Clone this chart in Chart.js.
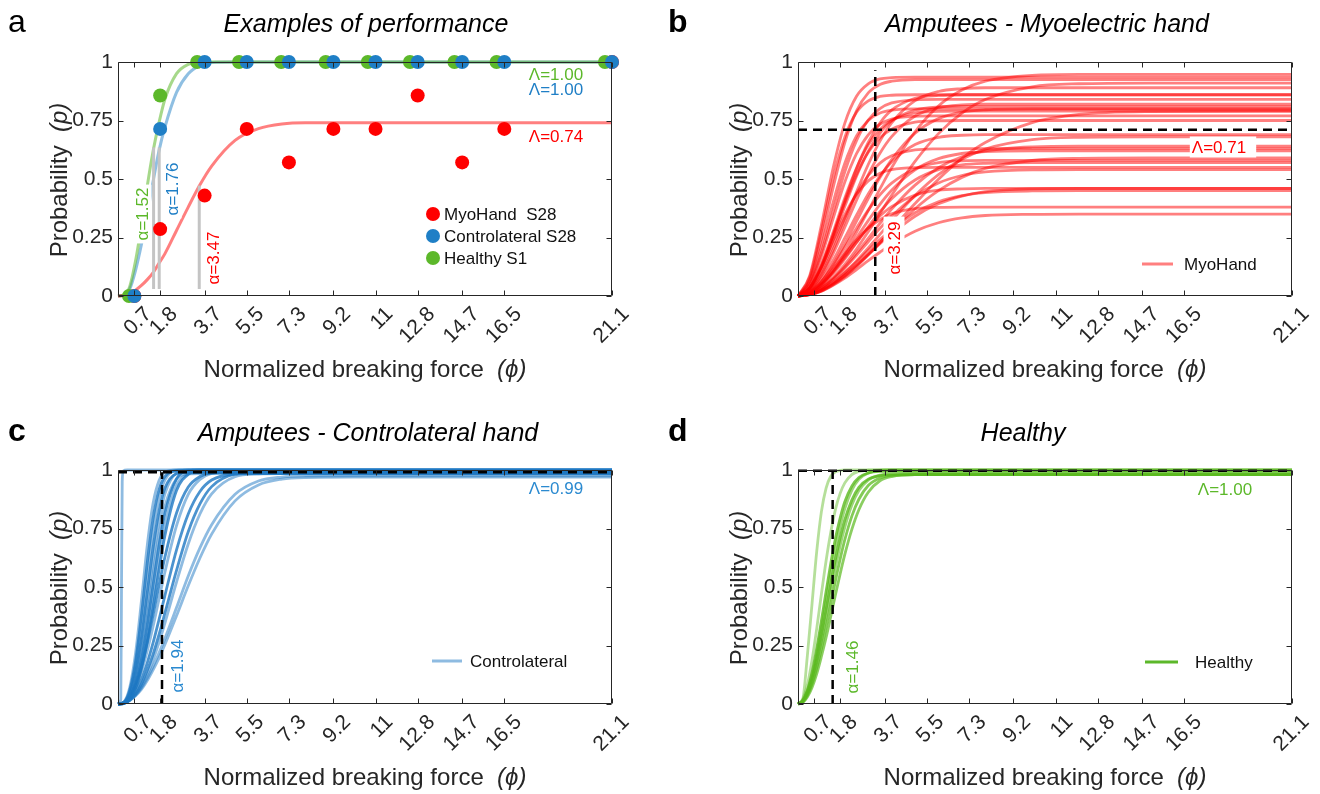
<!DOCTYPE html>
<html><head><meta charset="utf-8">
<script src="https://cdn.jsdelivr.net/npm/chart.js@4.4.1/dist/chart.umd.min.js"></script>
<style>
html,body{margin:0;padding:0;background:#fff;width:1320px;height:794px;overflow:hidden;}
canvas{position:absolute;}
</style></head><body>
<canvas id="pa" width="660" height="408" style="left:0;top:0"></canvas>
<canvas id="pb" width="660" height="408" style="left:660px;top:0"></canvas>
<canvas id="pc" width="660" height="386" style="left:0;top:408px"></canvas>
<canvas id="pd" width="660" height="386" style="left:660px;top:408px"></canvas>
<script>
// ---------- axis ticks ----------
const X_TICKS = [0.7, 1.8, 3.7, 5.5, 7.3, 9.2, 11, 12.8, 14.7, 16.5, 21.1];
const X_TICK_LABELS = ['0.7','1.8','3.7','5.5','7.3','9.2','11','12.8','14.7','16.5','21.1'];
const Y_TICKS = [0, 0.25, 0.5, 0.75, 1];
const Y_TICK_LABELS = ['0','0.25','0.5','0.75','1'];

// ---------- panel a : examples ----------
const A_FORCE = [0.7, 1.8, 3.7, 5.5, 7.3, 9.2, 11, 12.8, 14.7, 16.5, 21.1];
const A_FORCE_HEALTHY = [0.47, 1.8, 3.38, 5.17, 6.97, 8.87, 10.67, 12.47, 14.37, 16.17, 20.8];
const A_MYO_P = [0, 0.286, 0.429, 0.714, 0.571, 0.714, 0.714, 0.857, 0.571, 0.714, 1];
const A_CONTRA_P = [0, 0.714, 1, 1, 1, 1, 1, 1, 1, 1, 1];
const A_HEALTHY_P = [0, 0.857, 1, 1, 1, 1, 1, 1, 1, 1, 1];
const A_FIT_X = [0, 0.25, 0.5, 0.75, 1, 1.25, 1.5, 1.75, 2, 2.5, 3, 3.5, 4, 5, 6, 7, 8, 10, 14, 21.1];
const A_FIT_HEALTHY = [0, .005, .04, .15, .30, .47, .62, .74, .84, .95, .99, 1, 1, 1, 1, 1, 1, 1, 1, 1];
const A_FIT_CONTRA = [0, .004, .03, .11, .22, .35, .49, .62, .72, .87, .95, .985, .998, 1, 1, 1, 1, 1, 1, 1];
const A_FIT_MYO = [0, .002, .01, .025, .045, .07, .10, .14, .18, .28, .38, .475, .555, .665, .715, .735, .74, .74, .74, .74];
const A_ALPHA = [1.52, 1.76, 3.47];
const A_ALPHA_TOP = [0.635, 0.635, 0.472];
const A_ALPHA_BOTTOM = 0.03;

// ---------- panel b : myoelectric hand ----------
const B_X = [0, .5, 1, 1.5, 2, 2.5, 3, 3.5, 4, 5, 6, 7, 8, 10, 12, 15, 21.1];
const MYO_FITS = [
[0,.087,.303,.547,.739,.854,.907,.928,.933,.935,.935,.935,.935,.935,.935,.935,.935],
[0,.080,.279,.503,.679,.785,.834,.853,.858,.86,.86,.86,.86,.86,.86,.86,.86],
[0,.068,.246,.463,.656,.791,.868,.904,.918,.925,.925,.925,.925,.925,.925,.925,.925],
[0,.059,.213,.400,.567,.684,.750,.782,.794,.80,.80,.80,.80,.80,.80,.80,.80],
[0,.051,.186,.361,.531,.664,.752,.801,.825,.838,.84,.84,.84,.84,.84,.84,.84],
[0,.047,.170,.331,.487,.608,.689,.734,.756,.768,.77,.77,.77,.77,.77,.77,.77],
[0,.034,.122,.237,.348,.435,.492,.524,.540,.549,.55,.55,.55,.55,.55,.55,.55],
[0,.036,.136,.273,.419,.547,.646,.712,.751,.783,.789,.79,.79,.79,.79,.79,.79],
[0,.035,.129,.260,.398,.520,.614,.676,.713,.743,.749,.75,.75,.75,.75,.75,.75],
[0,.029,.108,.218,.334,.437,.515,.568,.599,.624,.629,.63,.63,.63,.63,.63,.63],
[0,.034,.127,.260,.407,.544,.656,.739,.794,.845,.857,.86,.86,.86,.86,.86,.86],
[0,.032,.120,.245,.383,.512,.618,.696,.748,.795,.808,.81,.81,.81,.81,.81,.81],
[0,.015,.056,.115,.180,.240,.290,.326,.351,.373,.379,.38,.38,.38,.38,.38,.38],
[0,.024,.093,.197,.320,.445,.562,.662,.740,.835,.874,.886,.89,.89,.89,.89,.89],
[0,.022,.086,.181,.294,.410,.518,.610,.681,.769,.805,.817,.82,.82,.82,.82,.82],
[0,.019,.072,.152,.248,.345,.436,.513,.573,.647,.678,.687,.69,.69,.69,.69,.69],
[0,.016,.061,.128,.208,.290,.367,.432,.482,.544,.570,.578,.58,.58,.58,.58,.58],
[0,.012,.048,.102,.165,.230,.291,.342,.382,.431,.452,.458,.46,.46,.46,.46,.46],
[0,.016,.062,.134,.223,.320,.416,.506,.583,.696,.758,.786,.796,.80,.80,.80,.80],
[0,.012,.048,.104,.173,.248,.322,.392,.452,.539,.587,.609,.617,.62,.62,.62,.62],
[0,.011,.044,.096,.159,.228,.296,.360,.416,.496,.540,.560,.567,.57,.57,.57,.57],
[0,.007,.027,.059,.099,.145,.194,.241,.284,.356,.403,.429,.442,.449,.45,.45,.45],
[0,.006,.021,.046,.077,.113,.151,.187,.221,.277,.313,.334,.344,.349,.35,.35,.35],
[0,.009,.033,.071,.119,.174,.232,.289,.341,.427,.483,.515,.530,.539,.54,.54,.54],
[0,.012,.050,.109,.185,.272,.365,.458,.548,.702,.812,.880,.918,.943,.947,.947,.947],
[0,.008,.034,.074,.125,.184,.246,.310,.371,.474,.548,.595,.620,.637,.64,.64,.64],
[0,.006,.024,.053,.090,.132,.177,.223,.266,.341,.394,.427,.446,.458,.46,.46,.46],
[0,.009,.035,.078,.135,.201,.275,.352,.430,.575,.694,.782,.840,.894,.907,.91,.91],
[0,.007,.027,.058,.101,.150,.205,.263,.322,.430,.519,.584,.628,.668,.678,.68,.68],
[0,.006,.023,.051,.087,.130,.178,.228,.279,.373,.450,.507,.545,.579,.588,.59,.59],
[0,.006,.021,.048,.083,.126,.175,.228,.284,.395,.499,.588,.656,.741,.776,.788,.79]
];
const B_ALPHA_X = 3.3, B_ALPHA_TOP = 0.965, B_LAMBDA = 0.71;

// ---------- panel c : controlateral hand ----------
const C_X = [0, .25, .5, .75, 1, 1.25, 1.5, 1.75, 2, 2.5, 3, 3.5, 4, 5, 6, 7, 8, 10, 21.1];
const CONTRA_FITS = [
[0,.009,.07,.217,.439,.678,.858,.954,.99,1,1,1,1,1,1,1,1,1,1],
[0,.007,.059,.182,.378,.603,.794,.915,.972,.995,.995,.995,.995,.995,.995,.995,.995,.995,.995],
[0,.006,.051,.157,.329,.54,.739,.88,.957,.998,1,1,1,1,1,1,1,1,1],
[0,.005,.043,.133,.281,.476,.669,.824,.922,.984,.99,.99,.99,.99,.99,.99,.99,.99,.99],
[0,.004,.037,.114,.25,.427,.617,.78,.897,.988,1,1,1,1,1,1,1,1,1],
[0,.004,.03,.097,.215,.374,.553,.72,.843,.962,.983,.985,.985,.985,.985,.985,.985,.985,.985],
[0,.003,.026,.088,.19,.339,.51,.676,.813,.962,.997,1,1,1,1,1,1,1,1],
[0,.003,.023,.076,.168,.298,.457,.619,.759,.933,.983,.99,.99,.99,.99,.99,.99,.99,.99],
[0,.002,.021,.066,.15,.269,.417,.573,.718,.912,.981,.994,.995,.995,.995,.995,.995,.995,.995],
[0,.007,.033,.083,.16,.263,.382,.506,.626,.816,.927,.972,.987,.99,.99,.99,.99,.99,.99],
[0,.006,.028,.072,.138,.227,.332,.448,.562,.762,.896,.96,.986,.995,.995,.995,.995,.995,.995],
[0,.003,.019,.053,.105,.176,.262,.36,.462,.659,.812,.908,.957,.983,.985,.985,.985,.985,.985],
[0,.003,.016,.043,.084,.143,.213,.296,.387,.571,.736,.855,.929,.982,.989,.99,.99,.99,.99],
[0,.003,.015,.037,.075,.124,.188,.262,.345,.521,.684,.812,.898,.971,.983,.985,.985,.985,.985],
[0,.004,.017,.039,.069,.111,.161,.218,.279,.412,.547,.667,.766,.896,.953,.970,.974,.975,.975],
[0,.003,.016,.035,.062,.1,.146,.196,.253,.377,.505,.624,.726,.868,.936,.961,.968,.97,.97]
];
const CONTRA_DARK = [false,true,false,true,false,false,true,false,true,true,false,true,true,false,false,false];
const CONTRA_STEP_X = [0, 0.12, 0.15, 0.18, 0.22, 0.4, 21.1];
const CONTRA_STEP_P = [0, 0.02, 0.5, 0.95, 0.995, 1, 1];
const C_ALPHA_X = 1.88, C_LAMBDA = 0.99;

// ---------- panel d : healthy ----------
const D_X = [0, .2, .4, .6, .8, 1, 1.2, 1.4, 1.6, 1.8, 2, 2.3, 2.6, 3, 3.5, 4, 5, 21.1];
const HEALTHY_FITS = [
[0,.019,.207,.429,.652,.822,.923,.973,.992,.998,1,1,1,1,1,1,1,1],
[0,.02,.082,.187,.322,.47,.612,.734,.832,.9,.945,.98,.994,.999,1,1,1,1],
[0,.015,.059,.134,.237,.355,.481,.6,.707,.794,.864,.931,.968,.987,.994,.995,.995,.995],
[0,.013,.053,.12,.215,.325,.443,.561,.667,.759,.835,.914,.96,.987,.998,1,1,1],
[0,.012,.048,.109,.192,.293,.404,.515,.619,.711,.788,.872,.926,.961,.976,.979,.98,.98],
[0,.01,.043,.099,.176,.269,.373,.481,.583,.677,.756,.85,.912,.957,.978,.984,.985,.985],
[0,.008,.037,.085,.153,.236,.33,.429,.527,.619,.702,.803,.875,.934,.966,.977,.98,.98],
[0,.006,.03,.071,.129,.203,.284,.375,.467,.556,.639,.746,.83,.905,.954,.972,.98,.98]
];
const HEALTHY_ALPHA_LINE = [0.45, 0.45, 0.8, 0.6, 0.8, 0.6, 0.75, 0.7];
const D_ALPHA_X = 1.48, D_LAMBDA = 0.997;

// ---------- helpers ----------
const FONT = '"Liberation Sans", Arial, Helvetica, sans-serif';
function font(size, italic, bold) { return (italic ? 'italic ' : '') + (bold ? 'bold ' : '') + size + 'px ' + FONT; }
function pts(xs, ys) { return ys.map((y, i) => ({ x: xs[i], y })); }
function curveDS(xs, ys, color, width, order) {
  return { data: pts(xs, ys), borderColor: color, borderWidth: width, pointRadius: 0, fill: false,
           cubicInterpolationMode: 'monotone', clip: false, order };
}
function segDS(x0, y0, x1, y1, color, width, dash, order) {
  return { data: [{ x: x0, y: y0 }, { x: x1, y: y1 }], borderColor: color, borderWidth: width,
           borderDash: dash || [], pointRadius: 0, fill: false, tension: 0, clip: false, order, borderCapStyle: 'butt' };
}
function dotsDS(xs, ys, color, order) {
  return { data: pts(xs, ys), showLine: false, pointRadius: 7, pointBackgroundColor: color,
           pointBorderWidth: 0, pointBorderColor: color, clip: false, order };
}

function drawLabel(ctx, l) {
  ctx.save();
  ctx.translate(l.x, l.y);
  if (l.rot) ctx.rotate(l.rot);
  ctx.font = font(l.size || 17);
  const w = ctx.measureText(l.text).width, h = (l.size || 17);
  if (l.bg) {
    const p = l.bg;
    ctx.fillStyle = '#fff';
    ctx.fillRect(-w / 2 - p[0], -h / 2 - p[1], w + p[0] + p[2], h + p[1] + p[3]);
  }
  ctx.fillStyle = l.color; ctx.textAlign = 'center'; ctx.textBaseline = 'middle';
  ctx.fillText(l.text, 0, 1);
  ctx.restore();
}
function drawMixed(ctx, parts, x, y, size, rot) {
  ctx.save();
  ctx.translate(x, y);
  if (rot) ctx.rotate(rot);
  let total = 0;
  parts.forEach(p => { ctx.font = font(size, p.i); p.w = ctx.measureText(p.t).width; total += p.w; });
  let cx = -total / 2;
  ctx.fillStyle = '#262626'; ctx.textAlign = 'left'; ctx.textBaseline = 'alphabetic';
  parts.forEach(p => { ctx.font = font(size, p.i); ctx.fillText(p.t, cx, 0); cx += p.w; });
  ctx.restore();
}

const panelPlugin = {
  id: 'panel',
  afterDraw(chart, args, o) {
    const ctx = chart.ctx, ca = chart.chartArea;
    const xs = chart.scales.x, ys = chart.scales.y;
    ctx.save();
    (o.labels || []).forEach(l => drawLabel(ctx, l));
    (o.legend || []).forEach(it => {
      if (it.dot) {
        ctx.beginPath(); ctx.fillStyle = it.color; ctx.arc(it.x, it.y, 7, 0, Math.PI * 2); ctx.fill();
      } else {
        ctx.beginPath(); ctx.strokeStyle = it.color; ctx.lineWidth = 3;
        ctx.moveTo(it.x0, it.y); ctx.lineTo(it.x1, it.y); ctx.stroke();
      }
      ctx.font = font(17); ctx.fillStyle = '#111'; ctx.textAlign = 'left'; ctx.textBaseline = 'middle';
      ctx.fillText(it.text, it.tx, it.y + 1);
    });
    // frame and inward ticks
    const L = Math.round(ca.left) + 0.5, R = Math.round(ca.right) - 0.5, T = Math.round(ca.top) + 0.5, B = Math.round(ca.bottom) - 0.5;
    ctx.strokeStyle = '#262626'; ctx.lineWidth = 1; ctx.setLineDash([]);
    ctx.beginPath(); ctx.rect(L, T, R - L, B - T); ctx.stroke();
    ctx.beginPath();
    xs.ticks.forEach(t => {
      const px = Math.round(xs.getPixelForValue(t.value)) + 0.5;
      ctx.moveTo(px, B); ctx.lineTo(px, B - 5); ctx.moveTo(px, T); ctx.lineTo(px, T + 5);
    });
    ys.ticks.forEach(t => {
      const py = Math.round(ys.getPixelForValue(t.value)) + 0.5;
      ctx.moveTo(L, py); ctx.lineTo(L + 5, py); ctx.moveTo(R, py); ctx.lineTo(R - 5, py);
    });
    ctx.stroke();
    // titles
    ctx.fillStyle = '#000'; ctx.textAlign = 'left'; ctx.textBaseline = 'alphabetic';
    ctx.font = font(32, false, o.letterBold);
    ctx.fillText(o.letter, 8, o.letterY);
    ctx.textAlign = 'center';
    ctx.font = font(25, true);
    ctx.fillText(o.title, o.titleX, o.titleY);
    const cx = (ca.left + ca.right) / 2;
    drawMixed(ctx, [{ t: 'Normalized breaking force  ' }, { t: '(\u03D5)', i: true }], cx, ca.bottom + 81, 24, 0);
    drawMixed(ctx, [{ t: 'Probability  ' }, { t: '(p)', i: true }], ca.left - 51, (ca.top + ca.bottom) / 2 + 1, 24, -Math.PI / 2);
    ctx.restore();
  }
};

function makeChart(id, plotLeft, plotRight, H, datasets, panel) {
  const W = 660;
  return new Chart(document.getElementById(id), {
    type: 'line',
    data: { datasets },
    options: {
      responsive: false, animation: false, events: [], devicePixelRatio: 1,
      layout: { padding: { left: 0, top: 62, right: W - plotRight, bottom: 0 } },
      plugins: { legend: { display: false }, tooltip: { enabled: false }, title: { display: false }, panel },
      scales: {
        x: {
          type: 'linear', min: 0, max: 21.1, position: 'bottom',
          grid: { display: false, drawTicks: false, tickLength: 0 }, border: { display: false },
          afterBuildTicks: s => { s.ticks = X_TICKS.map(v => ({ value: v })); },
          afterFit: s => { s.height = H - 296; s.paddingLeft = 0; s.paddingRight = 0; },
          ticks: { autoSkip: false, maxRotation: 45, minRotation: 45, padding: 6, labelOffset: 14, color: '#262626',
                   font: { family: FONT, size: 21 }, callback: (v, i) => X_TICK_LABELS[i] }
        },
        y: {
          type: 'linear', min: 0, max: 1, position: 'left',
          grid: { display: false, drawTicks: false, tickLength: 0 }, border: { display: false },
          afterBuildTicks: s => { s.ticks = Y_TICKS.map(v => ({ value: v })); },
          afterFit: s => { s.width = plotLeft; s.paddingTop = 0; s.paddingBottom = 0; },
          ticks: { padding: 5, color: '#262626', font: { family: FONT, size: 21 }, callback: (v, i) => Y_TICK_LABELS[i] }
        }
      }
    },
    plugins: [panelPlugin]
  });
}

// ---------- colours ----------
const RED = '#ff0000', BLUE = '#1f7fc6', GREEN = '#5cb82a';
const RED_LINE = 'rgba(255,0,0,0.5)';
const BLUE_LINE_A = 'rgba(31,127,198,0.5)';
const GREEN_LINE_A = 'rgba(92,184,42,0.55)';
const GRAY = '#c4c4c4';
const DASH = [9, 6];

// ---------- panel a ----------
const dsA = [
  curveDS(A_FIT_X, A_FIT_MYO, RED_LINE, 3, 10),
  curveDS(A_FIT_X, A_FIT_HEALTHY, GREEN_LINE_A, 3, 10),
  curveDS(A_FIT_X, A_FIT_CONTRA, BLUE_LINE_A, 3, 10),
];
A_ALPHA.forEach((a, i) => dsA.push(segDS(a, A_ALPHA_BOTTOM, a, A_ALPHA_TOP[i], GRAY, 3, [], 8)));
dsA.push(dotsDS(A_FORCE, A_MYO_P, RED, 3));
dsA.push(dotsDS(A_FORCE_HEALTHY, A_HEALTHY_P, GREEN, 2));
dsA.push(dotsDS(A_FORCE, A_CONTRA_P, BLUE, 1));
makeChart('pa', 118, 612, 408, dsA, {
  letter: 'a', letterBold: false, letterY: 32, title: 'Examples of performance', titleX: 366, titleY: 32,
  labels: [
    { text: '\u03B1=1.52', x: 142, y: 214, rot: -Math.PI / 2, color: GREEN, bg: [3, 1, 3, 1] },
    { text: '\u03B1=1.76', x: 172, y: 189, rot: -Math.PI / 2, color: BLUE, bg: [3, 1, 3, 1] },
    { text: '\u03B1=3.47', x: 213, y: 258, rot: -Math.PI / 2, color: RED, bg: [3, 1, 3, 1] },
    { text: '\u039B=1.00', x: 556, y: 74, color: GREEN },
    { text: '\u039B=1.00', x: 556, y: 89, color: BLUE },
    { text: '\u039B=0.74', x: 556, y: 136, color: RED },
  ],
  legend: [
    { dot: true, x: 433, y: 214, color: RED, tx: 444, text: 'MyoHand  S28' },
    { dot: true, x: 433, y: 236, color: BLUE, tx: 444, text: 'Controlateral S28' },
    { dot: true, x: 433, y: 258, color: GREEN, tx: 444, text: 'Healthy S1' },
  ]
});

// ---------- panel b ----------
const dsB = MYO_FITS.map(ys => curveDS(B_X, ys, RED_LINE, 2.8, 10));
dsB.push(segDS(0, B_LAMBDA, 21.1, B_LAMBDA, '#000', 2.5, DASH, 5));
dsB.push(segDS(B_ALPHA_X, 0, B_ALPHA_X, B_ALPHA_TOP, '#000', 2.5, DASH, 5));
makeChart('pb', 138, 632, 408, dsB, {
  letter: 'b', letterBold: true, letterY: 32, title: 'Amputees - Myoelectric hand', titleX: 387, titleY: 32,
  labels: [
    { text: '\u03B1=3.29', x: 234, y: 248, rot: -Math.PI / 2, color: RED, bg: [5, 2, 5, 2] },
    { text: '\u039B=0.71', x: 559, y: 147, color: RED, bg: [2, 2, 10, 2] },
  ],
  legend: [{ x0: 482, x1: 513, y: 264, color: 'rgba(255,0,0,0.5)', tx: 524, text: 'MyoHand' }]
});

// ---------- panel c ----------
const dsC = CONTRA_FITS.map((ys, i) => curveDS(C_X, ys, CONTRA_DARK[i] ? 'rgba(30,120,195,0.8)' : 'rgba(30,120,195,0.5)', 2.8, 10));
dsC.push(curveDS(CONTRA_STEP_X, CONTRA_STEP_P, 'rgba(30,120,195,0.5)', 2.8, 10));
dsC.push(segDS(0, C_LAMBDA, 21.1, C_LAMBDA, '#000', 2.5, DASH, 5));
dsC.push(segDS(C_ALPHA_X, 0, C_ALPHA_X, C_LAMBDA, '#000', 2.5, DASH, 5));
makeChart('pc', 118, 612, 386, dsC, {
  letter: 'c', letterBold: true, letterY: 33, title: 'Amputees - Controlateral hand', titleX: 368, titleY: 33,
  labels: [
    { text: '\u03B1=1.94', x: 177, y: 258, rot: -Math.PI / 2, color: '#2b8ad0' },
    { text: '\u039B=0.99', x: 556, y: 80, color: '#2b8ad0' },
  ],
  legend: [{ x0: 432, x1: 462, y: 253, color: 'rgba(30,120,195,0.5)', tx: 470, text: 'Controlateral' }]
});

// ---------- panel d ----------
const dsD = HEALTHY_FITS.map((ys, i) => curveDS(D_X, ys, 'rgba(90,185,30,' + HEALTHY_ALPHA_LINE[i] + ')', 2.8, 10));
dsD.push(segDS(0, D_LAMBDA, 21.1, D_LAMBDA, '#000', 2.5, DASH, 5));
dsD.push(segDS(D_ALPHA_X, 0, D_ALPHA_X, D_LAMBDA, '#000', 2.5, DASH, 5));
makeChart('pd', 138, 632, 386, dsD, {
  letter: 'd', letterBold: true, letterY: 33, title: 'Healthy', titleX: 363, titleY: 33,
  labels: [
    { text: '\u03B1=1.46', x: 192, y: 259, rot: -Math.PI / 2, color: GREEN },
    { text: '\u039B=1.00', x: 565, y: 81, color: GREEN },
  ],
  legend: [{ x0: 485, x1: 518, y: 254, color: 'rgb(92,184,42)', tx: 535, text: 'Healthy' }]
});
</script>
</body></html>
